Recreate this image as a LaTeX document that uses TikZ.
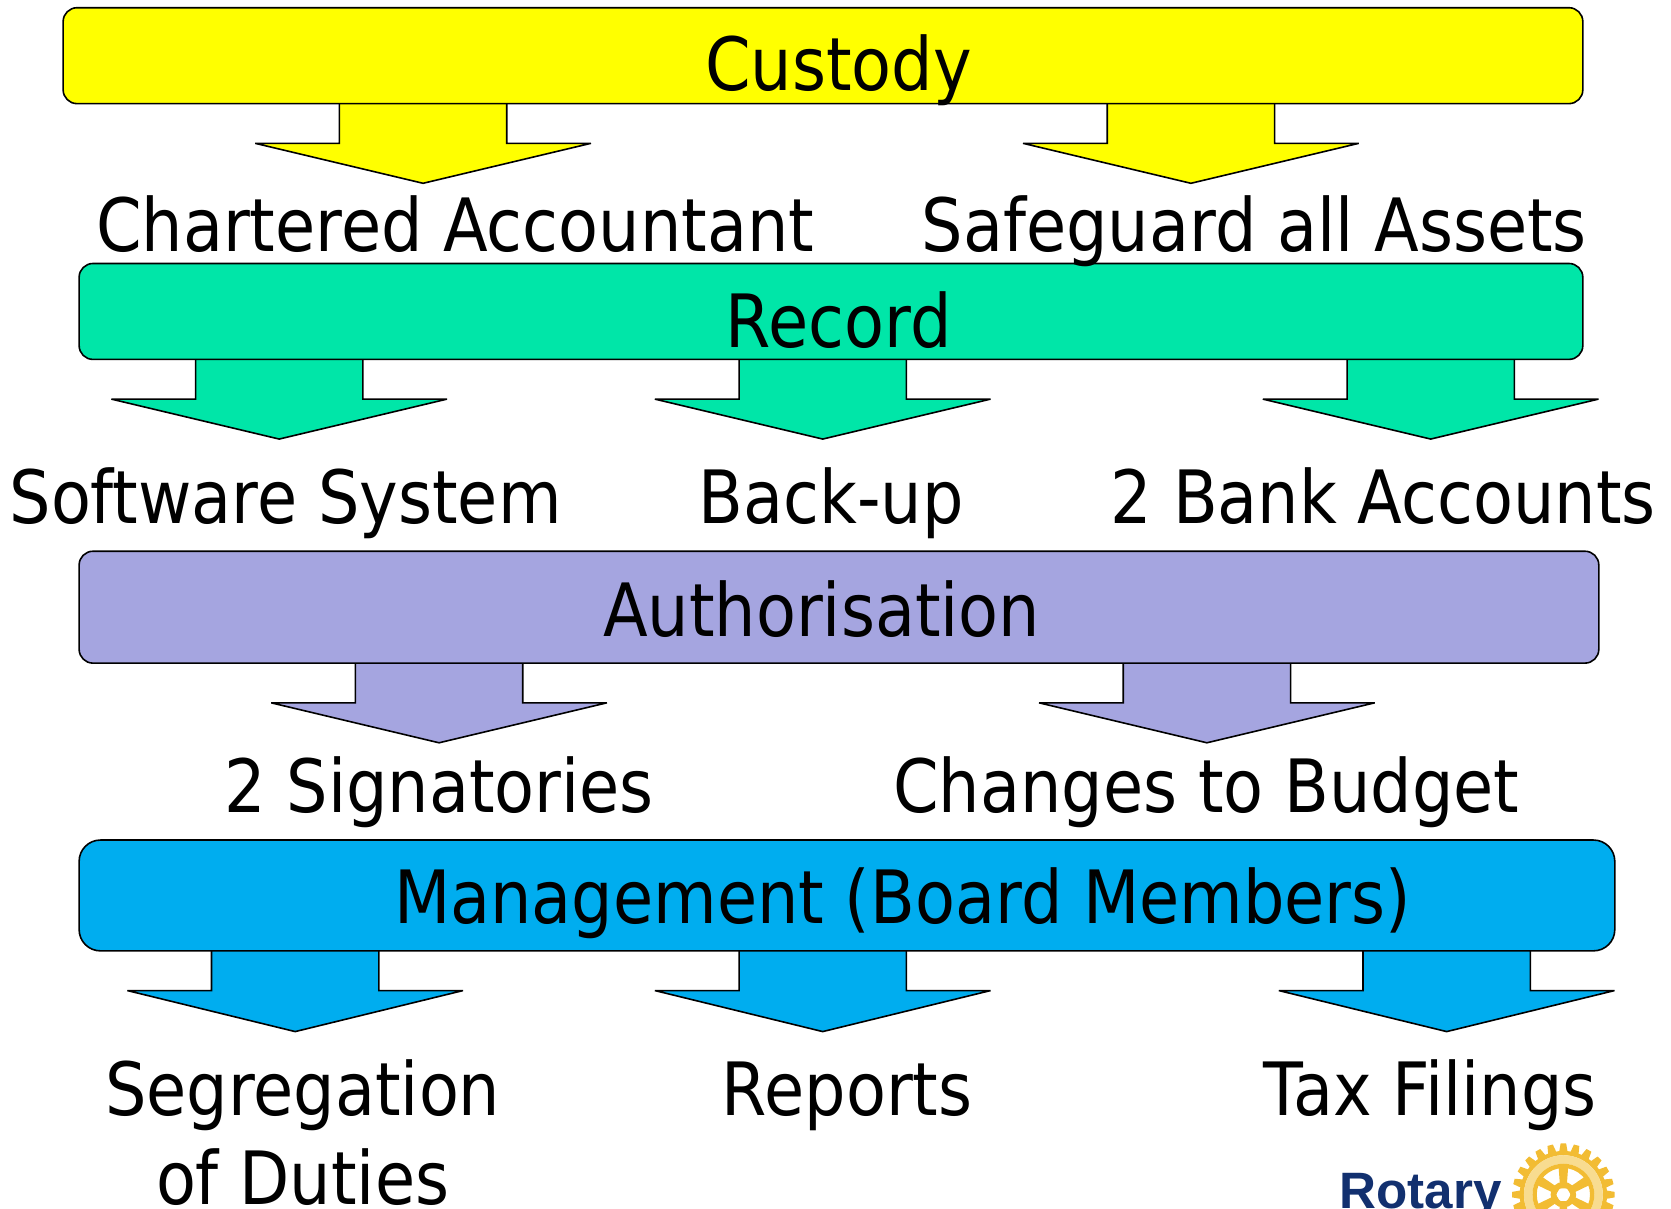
\documentclass[tikz,border=0pt]{standalone}
\usepackage{fontspec}
\setmainfont{DejaVu Sans}[FakeStretch=0.888]
\newfontfamily\logofont{Liberation Sans}[Scale=1]
\definecolor{cyel}{HTML}{FFFF00}
\definecolor{cgrn}{HTML}{00E6A8}
\definecolor{cpur}{HTML}{A5A5E0}
\definecolor{cblu}{HTML}{00ADEF}
\definecolor{gold}{HTML}{F2BC33}
\definecolor{paleg}{HTML}{F8DC90}
\definecolor{rotblue}{HTML}{12306F}
\newcommand{\blockarrow}[4]{% fill, x centre, base y, tip y
  \draw[blockline,fill=#1] (#2-78.5,#3) -- (#2-78.5,#3+37.5) -- (#2-157.5,#3+37.5) -- (#2,#4) -- (#2+157.5,#3+37.5) -- (#2+78.5,#3+37.5) -- (#2+78.5,#3);}
\tikzset{
  blockline/.style={draw=black,line width=1.5pt,line join=miter,miter limit=2},
  barbox/.style={draw=black,line width=1.5pt,rounded corners=13pt,inner sep=0pt,anchor=north west},
  big/.style={font=\fontsize{69}{80}\selectfont,anchor=base,inner sep=0pt,text=black}
}
\begin{document}
\begin{tikzpicture}[x=1pt,y=-1pt]
\useasboundingbox (0,0) rectangle (1568,1134);
\clip (0,0) rectangle (1568,1134);
% arrows
\blockarrow{cyel}{397}{97}{172}
\blockarrow{cyel}{1117.5}{97}{172}
\blockarrow{cgrn}{262}{337}{412}
\blockarrow{cgrn}{772}{337}{412}
\blockarrow{cgrn}{1342.5}{337}{412}
\blockarrow{cpur}{412}{622}{697}
\blockarrow{cpur}{1132.5}{622}{697}
\blockarrow{cblu}{277}{892}{968}
\blockarrow{cblu}{772}{892}{968}
\blockarrow{cblu}{1357.5}{892}{968}
% bars
\node[barbox,fill=cyel,minimum width=1426pt,minimum height=90pt] (custody) at (58.5,6.5) {};
\node[barbox,fill=cgrn,minimum width=1411pt,minimum height=90pt] (record) at (73.5,246.5) {};
\node[barbox,fill=cpur,minimum width=1426pt,minimum height=105pt] (auth) at (73.5,516.5) {};
\node[barbox,fill=cblu,minimum width=1441pt,minimum height=104pt,rounded corners=20pt] (mgmt) at (73.5,787.5) {};
% labels
\node[big] (tcustody) at (787,85) {Custody};
\node[big] (tca) at (427,236) {Chartered Accountant};
\node[big] (tsafe) at (1177,236) {Safeguard all Assets};
\node[big] (trecord) at (787,326) {Record};
\node[big] (tsoft) at (268,491) {Software System};
\node[big] (tback) at (780,491) {Back-up};
\node[big] (tbank) at (1298,491) {2 Bank Accounts};
\node[big] (tauth) at (771,597) {Authorisation};
\node[big] (tsign) at (412,762) {2 Signatories};
\node[big] (tbudget) at (1132,762) {Changes to Budget};
\node[big] (tmgmt) at (847,867) {Management (Board Members)};
\node[big] (tseg) at (284,1047) {Segregation};
\node[big] (tduties) at (284,1130) {of Duties};
\node[big] (treports) at (795,1047) {Reports};
\node[big] (ttax) at (1342,1047) {Tax Filings};
% logo
\node[font=\logofont\bfseries\fontsize{48}{48}\selectfont,text=rotblue,anchor=base,inner sep=0pt] (rotary) at (1333,1134) {Rotary};
\begin{scope}[shift={(1467,1121)}]
  \foreach \a in {0,15,...,345}
    \fill[gold,rotate=\a] (-4,-40) -- (-2.6,-48) -- (2.6,-48) -- (4,-40) -- cycle;
  \fill[gold,even odd rule] (0,0) circle (41) (0,0) circle (37);
  \fill[paleg,even odd rule] (0,0) circle (37) (0,0) circle (29);
  \fill[gold,even odd rule] (0,0) circle (29) (0,0) circle (25);
  \foreach \a in {0,60,...,300}
    \fill[gold,rotate=\a] (-3,-6) -- (-4.5,-26) -- (4.5,-26) -- (3,-6) -- cycle;
  \fill[gold,even odd rule] (0,0) circle (12) (0,0) circle (6.5);
\end{scope}
\end{tikzpicture}
\end{document}
